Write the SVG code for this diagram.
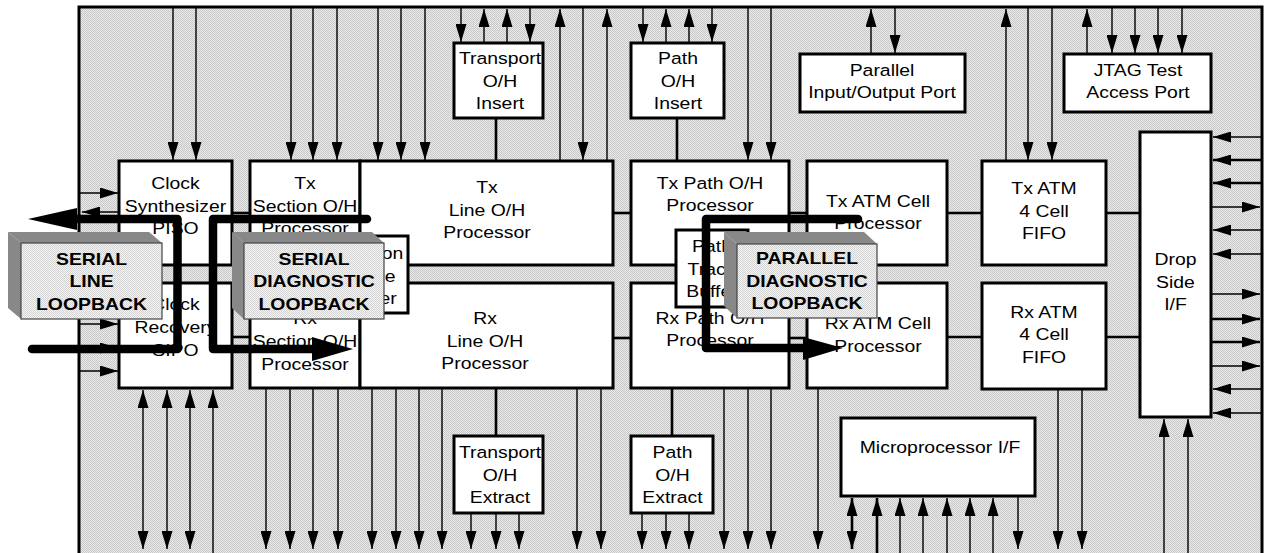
<svg xmlns="http://www.w3.org/2000/svg" width="1265" height="553" viewBox="0 0 1265 553">
<defs>
<pattern id="stip" width="2" height="2" patternUnits="userSpaceOnUse"><rect width="2" height="2" fill="#e9e9e9"/><rect width="1" height="1" fill="#c8c8c8"/><rect x="1" y="1" width="1" height="1" fill="#c8c8c8"/></pattern>
<pattern id="lstip" width="2" height="2" patternUnits="userSpaceOnUse"><rect width="2" height="2" fill="#f4f4f4"/><rect width="1" height="1" fill="#d4d4d4"/><rect x="1" y="1" width="1" height="1" fill="#d4d4d4"/></pattern>
<marker id="ah" viewBox="0 0 18 11" refX="18" refY="5.5" markerWidth="18" markerHeight="11" markerUnits="userSpaceOnUse" orient="auto-start-reverse"><path d="M0,0 L18,5.5 L0,11 z" fill="#000"/></marker>
<style>
.box{fill:#fff;stroke:#000;stroke-width:3}
.t{font-family:"Liberation Sans",Arial,sans-serif;font-size:16.5px;text-anchor:middle;fill:#000}
.b{font-weight:bold}
.a{stroke:#000;stroke-width:1.4;marker-end:url(#ah)}
.ab{stroke:#000;stroke-width:2.6;marker-end:url(#ah)}
.d{stroke:#000;stroke-width:1.4;marker-start:url(#ah);marker-end:url(#ah)}
.db{stroke:#000;stroke-width:2.6;marker-start:url(#ah);marker-end:url(#ah)}
.c{stroke:#000;stroke-width:2.6}
.loop{fill:none;stroke:#000;stroke-width:8.5;stroke-linecap:round;stroke-linejoin:round}
.side{fill:#888}
.front{fill:url(#lstip);stroke:#444;stroke-width:1.2}
</style>
</defs>

<g id="frame"><rect x="79" y="7" width="1183" height="560" fill="url(#stip)" stroke="#000" stroke-width="3"/></g>

<g id="connectors">
<!-- top arrows -->
<line class="a" x1="173" y1="8" x2="173" y2="160"/>
<line class="a" x1="196" y1="8" x2="196" y2="160"/>
<line class="a" x1="291" y1="8" x2="291" y2="160"/>
<line class="a" x1="313" y1="8" x2="313" y2="160"/>
<line class="a" x1="337" y1="8" x2="337" y2="160"/>
<line class="a" x1="378" y1="8" x2="378" y2="160"/>
<line class="a" x1="401" y1="8" x2="401" y2="160"/>
<line class="a" x1="425" y1="8" x2="425" y2="160"/>
<line class="a" x1="461" y1="8" x2="461" y2="42"/>
<line class="a" x1="484" y1="43" x2="484" y2="9"/>
<line class="a" x1="507" y1="43" x2="507" y2="9"/>
<line class="a" x1="530" y1="8" x2="530" y2="42"/>
<line class="a" x1="560" y1="161" x2="560" y2="9"/>
<line class="a" x1="583" y1="8" x2="583" y2="160"/>
<line class="a" x1="607" y1="161" x2="607" y2="9"/>
<line class="a" x1="643" y1="8" x2="643" y2="42"/>
<line class="a" x1="666" y1="43" x2="666" y2="9"/>
<line class="a" x1="689" y1="43" x2="689" y2="9"/>
<line class="a" x1="712" y1="8" x2="712" y2="42"/>
<line class="a" x1="748" y1="8" x2="748" y2="160"/>
<line class="a" x1="771" y1="8" x2="771" y2="160"/>
<line class="a" x1="871" y1="54" x2="871" y2="9"/>
<line class="a" x1="895" y1="8" x2="895" y2="53"/>
<line class="a" x1="1006" y1="161" x2="1006" y2="9"/>
<line class="a" x1="1028" y1="8" x2="1028" y2="160"/>
<line class="a" x1="1052" y1="8" x2="1052" y2="160"/>
<line class="a" x1="1087" y1="54" x2="1087" y2="9"/>
<line class="a" x1="1112" y1="8" x2="1112" y2="53"/>
<line class="a" x1="1135" y1="8" x2="1135" y2="53"/>
<line class="a" x1="1158" y1="8" x2="1158" y2="53"/>
<line class="a" x1="1182" y1="8" x2="1182" y2="53"/>
<!-- left arrows -->
<line class="a" x1="80" y1="193" x2="118" y2="193"/>
<line class="a" x1="118" y1="212" x2="82" y2="212"/>
<line class="a" x1="80" y1="324" x2="118" y2="324"/>
<line class="a" x1="80" y1="348" x2="118" y2="348"/>
<line class="a" x1="80" y1="371" x2="118" y2="371"/>
<!-- drop side right arrows -->
<line class="a" x1="1261" y1="137" x2="1213" y2="137"/>
<line class="ab" x1="1261" y1="160" x2="1213" y2="160"/>
<line class="ab" x1="1261" y1="183" x2="1213" y2="183"/>
<line class="a" x1="1212" y1="207" x2="1260" y2="207"/>
<line class="a" x1="1261" y1="230" x2="1213" y2="230"/>
<line class="a" x1="1261" y1="254" x2="1213" y2="254"/>
<line class="a" x1="1212" y1="294" x2="1260" y2="294"/>
<line class="ab" x1="1212" y1="319" x2="1260" y2="319"/>
<line class="ab" x1="1212" y1="342" x2="1260" y2="342"/>
<line class="a" x1="1212" y1="366" x2="1260" y2="366"/>
<line class="a" x1="1261" y1="389" x2="1213" y2="389"/>
<line class="a" x1="1261" y1="413" x2="1213" y2="413"/>
<!-- bottom arrows -->
<line class="d" x1="143" y1="390" x2="143" y2="549"/>
<line class="d" x1="167" y1="390" x2="167" y2="549"/>
<line class="d" x1="190" y1="390" x2="190" y2="549"/>
<line class="a" x1="213" y1="553" x2="213" y2="390"/>
<line class="a" x1="266" y1="389" x2="266" y2="549"/>
<line class="a" x1="290" y1="389" x2="290" y2="549"/>
<line class="a" x1="313" y1="389" x2="313" y2="549"/>
<line class="a" x1="338" y1="389" x2="338" y2="549"/>
<line class="a" x1="372" y1="389" x2="372" y2="549"/>
<line class="a" x1="396" y1="389" x2="396" y2="549"/>
<line class="a" x1="419" y1="389" x2="419" y2="549"/>
<line class="a" x1="442" y1="389" x2="442" y2="549"/>
<line class="a" x1="471" y1="514" x2="471" y2="549"/>
<line class="a" x1="496" y1="514" x2="496" y2="549"/>
<line class="a" x1="519" y1="514" x2="519" y2="549"/>
<line class="a" x1="577" y1="389" x2="577" y2="549"/>
<line class="a" x1="601" y1="389" x2="601" y2="549"/>
<line class="a" x1="642" y1="514" x2="642" y2="549"/>
<line class="a" x1="666" y1="514" x2="666" y2="549"/>
<line class="a" x1="689" y1="514" x2="689" y2="549"/>
<line class="a" x1="724" y1="389" x2="724" y2="549"/>
<line class="a" x1="748" y1="389" x2="748" y2="549"/>
<line class="a" x1="771" y1="389" x2="771" y2="549"/>
<line class="a" x1="818" y1="389" x2="818" y2="549"/>
<line class="db" x1="852" y1="498" x2="852" y2="549"/>
<line class="ab" x1="877" y1="553" x2="877" y2="498"/>
<line class="a" x1="900" y1="553" x2="900" y2="498"/>
<line class="a" x1="923" y1="553" x2="923" y2="498"/>
<line class="a" x1="947" y1="553" x2="947" y2="498"/>
<line class="a" x1="970" y1="553" x2="970" y2="498"/>
<line class="a" x1="993" y1="553" x2="993" y2="498"/>
<line class="a" x1="1018" y1="497" x2="1018" y2="549"/>
<line class="a" x1="1058" y1="390" x2="1058" y2="549"/>
<line class="a" x1="1082" y1="390" x2="1082" y2="549"/>
<line class="a" x1="1164" y1="553" x2="1164" y2="419"/>
<line class="a" x1="1188" y1="553" x2="1188" y2="419"/>
<!-- plain connections -->
<line class="c" x1="496" y1="118" x2="496" y2="161"/>
<line class="c" x1="677" y1="118" x2="677" y2="161"/>
<line class="c" x1="496" y1="388" x2="496" y2="436"/>
<line class="c" x1="672" y1="388" x2="672" y2="436"/>
<line class="c" x1="232" y1="213" x2="250" y2="213"/>
<line class="c" x1="613" y1="213" x2="631" y2="213"/>
<line class="c" x1="789" y1="213" x2="807" y2="213"/>
<line class="c" x1="947" y1="213" x2="982" y2="213"/>
<line class="c" x1="1106" y1="213" x2="1140" y2="213"/>
<line class="c" x1="232" y1="337" x2="250" y2="337"/>
<line class="c" x1="613" y1="338" x2="631" y2="338"/>
<line class="c" x1="789" y1="338" x2="807" y2="338"/>
<line class="c" x1="947" y1="337" x2="982" y2="337"/>
<line class="c" x1="1106" y1="337" x2="1140" y2="337"/>
</g>

<g id="clock-synth"><rect class="box" x="119" y="161" width="113" height="104"/>
<text class="t" transform="translate(175.5 0) scale(1.176 1)"><tspan x="0" y="189">Clock</tspan><tspan x="0" y="212">Synthesizer</tspan><tspan x="0" y="234">PISO</tspan></text></g>
<g id="clock-recovery"><rect class="box" x="119" y="283" width="113" height="105"/>
<text class="t" transform="translate(175.5 0) scale(1.176 1)"><tspan x="0" y="310">Clock</tspan><tspan x="0" y="333">Recovery</tspan><tspan x="0" y="356">SIPO</tspan></text></g>
<g id="tx-section"><rect class="box" x="250" y="161" width="110" height="104"/>
<text class="t" transform="translate(305 0) scale(1.176 1)"><tspan x="0" y="189">Tx</tspan><tspan x="0" y="212">Section O/H</tspan><tspan x="0" y="234">Processor</tspan></text></g>
<g id="rx-section"><rect class="box" x="250" y="283" width="110" height="105"/>
<text class="t" transform="translate(305 0) scale(1.176 1)"><tspan x="0" y="324">Rx</tspan><tspan x="0" y="347">Section O/H</tspan><tspan x="0" y="370">Processor</tspan></text></g>
<g id="tx-line"><rect class="box" x="360" y="161" width="253" height="104"/>
<text class="t" transform="translate(487 0) scale(1.176 1)"><tspan x="0" y="193">Tx</tspan><tspan x="0" y="216">Line O/H</tspan><tspan x="0" y="238">Processor</tspan></text></g>
<g id="rx-line"><rect class="box" x="360" y="283" width="253" height="105"/>
<text class="t" transform="translate(485 0) scale(1.176 1)"><tspan x="0" y="324">Rx</tspan><tspan x="0" y="347">Line O/H</tspan><tspan x="0" y="369">Processor</tspan></text></g>
<g id="section-trace-buffer"><rect class="box" x="334" y="236" width="74" height="77"/>
<text class="t" transform="translate(371 0) scale(1.176 1)"><tspan x="0" y="259">Section</tspan><tspan x="0" y="282">Trace</tspan><tspan x="0" y="304">Buffer</tspan></text></g>
<g id="tx-path"><rect class="box" x="631" y="161" width="158" height="104"/>
<text class="t" transform="translate(710 0) scale(1.176 1)"><tspan x="0" y="189">Tx Path O/H</tspan><tspan x="0" y="211">Processor</tspan></text></g>
<g id="rx-path"><rect class="box" x="631" y="283" width="158" height="105"/>
<text class="t" transform="translate(710 0) scale(1.176 1)"><tspan x="0" y="324">Rx Path O/H</tspan><tspan x="0" y="346">Processor</tspan></text></g>
<g id="path-trace-buffer"><rect class="box" x="676" y="230" width="72" height="77"/>
<text class="t" transform="translate(712 0) scale(1.176 1)"><tspan x="0" y="252">Path</tspan><tspan x="0" y="275">Trace</tspan><tspan x="0" y="297">Buffer</tspan></text></g>
<g id="tx-atm-cell"><rect class="box" x="807" y="161" width="140" height="104"/>
<text class="t" transform="translate(878 0) scale(1.176 1)"><tspan x="0" y="207">Tx ATM Cell</tspan><tspan x="0" y="229">Processor</tspan></text></g>
<g id="rx-atm-cell"><rect class="box" x="807" y="283" width="140" height="105"/>
<text class="t" transform="translate(878 0) scale(1.176 1)"><tspan x="0" y="329">Rx ATM Cell</tspan><tspan x="0" y="352">Processor</tspan></text></g>
<g id="tx-fifo"><rect class="box" x="982" y="161" width="124" height="104"/>
<text class="t" transform="translate(1044 0) scale(1.176 1)"><tspan x="0" y="194">Tx ATM</tspan><tspan x="0" y="217">4 Cell</tspan><tspan x="0" y="239">FIFO</tspan></text></g>
<g id="rx-fifo"><rect class="box" x="982" y="283" width="124" height="106"/>
<text class="t" transform="translate(1044 0) scale(1.176 1)"><tspan x="0" y="318">Rx ATM</tspan><tspan x="0" y="340">4 Cell</tspan><tspan x="0" y="363">FIFO</tspan></text></g>
<g id="drop-side"><rect class="box" x="1140" y="132" width="71" height="285"/>
<text class="t" transform="translate(1175.5 0) scale(1.176 1)"><tspan x="0" y="265">Drop</tspan><tspan x="0" y="288">Side</tspan><tspan x="0" y="310">I/F</tspan></text></g>
<g id="microprocessor"><rect class="box" x="841" y="418" width="194" height="78"/>
<text class="t" transform="translate(940 0) scale(1.176 1)"><tspan x="0" y="453">Microprocessor I/F</tspan></text></g>
<g id="jtag"><rect class="box" x="1064" y="54" width="147" height="58"/>
<text class="t" transform="translate(1138 0) scale(1.176 1)"><tspan x="0" y="76">JTAG Test</tspan><tspan x="0" y="98">Access Port</tspan></text></g>
<g id="parallel-io"><rect class="box" x="800" y="54" width="165" height="58"/>
<text class="t" transform="translate(882 0) scale(1.176 1)"><tspan x="0" y="76">Parallel</tspan><tspan x="0" y="98">Input/Output Port</tspan></text></g>
<g id="transport-insert"><rect class="box" x="454" y="43" width="89" height="75"/>
<text class="t" transform="translate(500 0) scale(1.176 1)"><tspan x="0" y="64">Transport</tspan><tspan x="0" y="87">O/H</tspan><tspan x="0" y="109">Insert</tspan></text></g>
<g id="path-insert"><rect class="box" x="631" y="43" width="93" height="75"/>
<text class="t" transform="translate(678 0) scale(1.176 1)"><tspan x="0" y="64">Path</tspan><tspan x="0" y="87">O/H</tspan><tspan x="0" y="109">Insert</tspan></text></g>
<g id="transport-extract"><rect class="box" x="454" y="436" width="89" height="77"/>
<text class="t" transform="translate(500 0) scale(1.176 1)"><tspan x="0" y="458">Transport</tspan><tspan x="0" y="481">O/H</tspan><tspan x="0" y="503">Extract</tspan></text></g>
<g id="path-extract"><rect class="box" x="631" y="436" width="82" height="77"/>
<text class="t" transform="translate(672.5 0) scale(1.176 1)"><tspan x="0" y="458">Path</tspan><tspan x="0" y="481">O/H</tspan><tspan x="0" y="503">Extract</tspan></text></g>

<g id="loopbacks">
<path class="loop" d="M32,349 H177.5 V219 H72"/>
<polygon points="28,219 77,208 77,230" fill="#000"/>
<path class="loop" d="M367,219 H213 V349 H315"/>
<polygon points="353,349 312,337 312,361" fill="#000"/>
<path class="loop" d="M858,219 H706 V348 H805"/>
<polygon points="843,348 803,337 803,360" fill="#000"/>
</g>

<g id="serial-line-loopback">
<polygon class="side" points="8,232 149,232 162,243 21,243"/>
<polygon class="side" points="8,232 21,243 21,319 8,308"/>
<rect class="front" x="21" y="243" width="141" height="76"/>
<text class="t b" transform="translate(91.5 0) scale(1.176 1)"><tspan x="0" y="265">SERIAL</tspan><tspan x="0" y="287">LINE</tspan><tspan x="0" y="310">LOOPBACK</tspan></text>
</g>
<g id="serial-diagnostic-loopback">
<polygon class="side" points="232,232 372,232 384,243 244,243"/>
<polygon class="side" points="232,232 244,243 244,319 232,308"/>
<rect class="front" x="244" y="243" width="140" height="76"/>
<text class="t b" transform="translate(314 0) scale(1.176 1)"><tspan x="0" y="265">SERIAL</tspan><tspan x="0" y="287">DIAGNOSTIC</tspan><tspan x="0" y="310">LOOPBACK</tspan></text>
</g>
<g id="parallel-diagnostic-loopback">
<polygon class="side" points="724,232 864,232 877,244 737,244"/>
<polygon class="side" points="724,232 737,244 737,318 724,306"/>
<rect class="front" x="737" y="244" width="140" height="74"/>
<text class="t b" transform="translate(807 0) scale(1.176 1)"><tspan x="0" y="264">PARALLEL</tspan><tspan x="0" y="287">DIAGNOSTIC</tspan><tspan x="0" y="309">LOOPBACK</tspan></text>
</g>
</svg>
